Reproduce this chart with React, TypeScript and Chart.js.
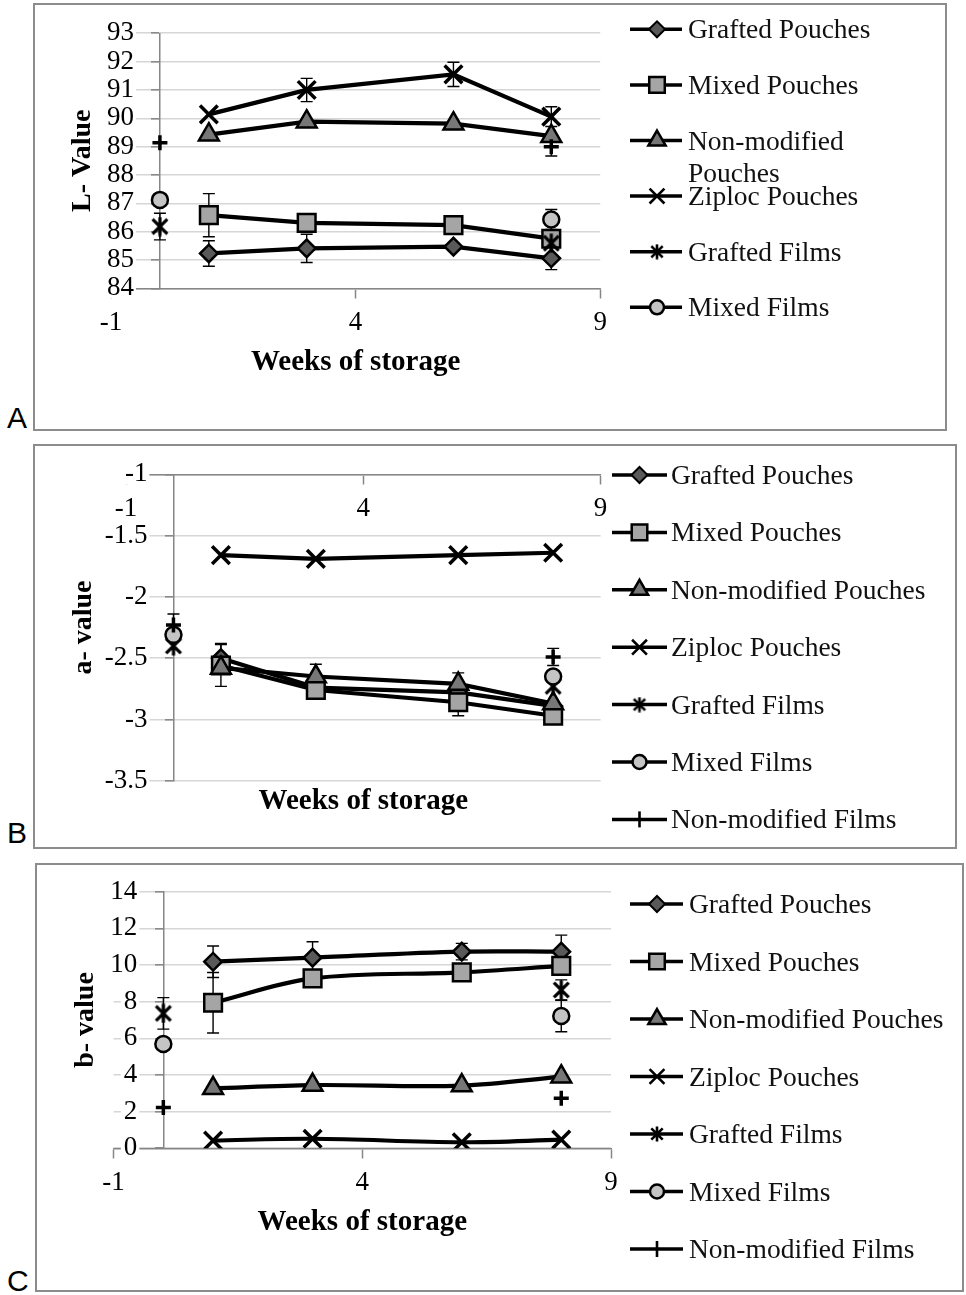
import React, { useEffect, useRef } from 'react';
import { Chart, registerables } from 'chart.js';

Chart.register(...registerables);

const FONT = "'Liberation Serif', 'Times New Roman', serif";
Chart.defaults.font.family = FONT;
Chart.defaults.color = '#000';

// ---------------- data ----------------
const POUCH_WEEKS = [1, 3, 6, 8];
const FILM_WEEKS = [0, 8];
const X_TICKS = [-1, 4, 9];
const X_RANGE = [-1, 9];
const SERIES_NAMES = [
  'Grafted Pouches',
  'Mixed Pouches',
  'Non-modified Pouches',
  'Ziploc Pouches',
  'Grafted Films',
  'Mixed Films',
  'Non-modified Films',
];

// Panel A : L- Value
const L_AXIS = [84, 93, 1];
const L_GRAFTED_POUCHES = [85.23, 85.41, 85.47, 85.06];
const L_MIXED_POUCHES = [86.58, 86.31, 86.23, 85.75];
const L_NONMOD_POUCHES = [89.42, 89.88, 89.81, 89.37];
const L_ZIPLOC_POUCHES = [90.14, 91.0, 91.55, 90.06];
const L_GRAFTED_FILMS = [86.18, 85.59];
const L_MIXED_FILMS = [87.12, 86.43];
const L_NONMOD_FILMS = [89.14, 89.0];
const L_ERR_GRAFTED_POUCHES = [0.45, 0.5, null, 0.4];
const L_ERR_MIXED_POUCHES = [0.76, null, null, null];
const L_ERR_ZIPLOC_POUCHES = [null, 0.41, 0.43, 0.35];
const L_ERR_GRAFTED_FILMS = [0.47, null];
const L_ERR_MIXED_FILMS = [null, 0.35];
const L_ERR_NONMOD_FILMS = [null, 0.33];

// Panel B : a- value
const A_AXIS = [-3.5, -1, 0.5];
const A_GRAFTED_POUCHES = [-2.5, -2.74, -2.78, -2.89];
const A_MIXED_POUCHES = [-2.56, -2.76, -2.86, -2.97];
const A_NONMOD_POUCHES = [-2.58, -2.65, -2.71, -2.87];
const A_ZIPLOC_POUCHES = [-1.66, -1.69, -1.66, -1.64];
const A_GRAFTED_FILMS = [-2.4, -2.73];
const A_MIXED_FILMS = [-2.31, -2.65];
const A_NONMOD_FILMS = [-2.23, -2.49];
const A_ERR_GRAFTED_POUCHES = [0.12, null, null, null];
const A_ERR_MIXED_POUCHES = [0.17, null, 0.11, null];
const A_ERR_NONMOD_POUCHES = [null, 0.1, 0.09, null];
const A_ERR_NONMOD_FILMS = [0.09, 0.07];

// Panel C : b- value
const B_AXIS = [0, 14, 2];
const B_GRAFTED_POUCHES = [10.18, 10.4, 10.73, 10.73];
const B_MIXED_POUCHES = [7.94, 9.27, 9.6, 9.95];
const B_NONMOD_POUCHES = [3.27, 3.45, 3.42, 3.91];
const B_ZIPLOC_POUCHES = [0.42, 0.52, 0.33, 0.47];
const B_GRAFTED_FILMS = [7.36, 8.64];
const B_MIXED_FILMS = [5.69, 7.22];
const B_NONMOD_FILMS = [2.22, 2.73];
const B_ERR_GRAFTED_POUCHES = [0.86, 0.87, 0.45, 0.9];
const B_ERR_MIXED_POUCHES = [1.65, null, null, null];
const B_ERR_GRAFTED_FILMS = [0.86, 0.55];
const B_ERR_MIXED_FILMS = [null, 0.86];

// ---------------- styles ----------------
const AXIS_GRAY = '#868686';
const GRID_GRAY = '#d6d6d6';
const Y_LABEL_GAP = 26; // tick length + padding between y labels and the y axis line
const TICK_FONT = 27;

function makeAsterisk(size: number, lw: number) {
  const c = document.createElement('canvas');
  c.width = size;
  c.height = size;
  const g = c.getContext('2d')!;
  g.strokeStyle = '#000';
  g.lineWidth = lw;
  const m = lw / 2 + 1;
  g.beginPath();
  g.moveTo(m, m);
  g.lineTo(size - m, size - m);
  g.moveTo(size - m, m);
  g.lineTo(m, size - m);
  g.moveTo(size / 2, 0.5);
  g.lineTo(size / 2, size - 0.5);
  g.stroke();
  return c;
}
const ASTERISK_CHART = makeAsterisk(20, 3.2);
const ASTERISK_LEGEND = makeAsterisk(16, 2.6);

const STYLES: any[] = [
  { style: 'rectRot', r: 8.8, fill: '#595959', lw: 2.5, lr: 8 },
  { style: 'rect', r: 12.5, fill: '#a5a5a5', lw: 2.5, lr: 11 },
  { style: 'triangle', r: 11.5, fill: '#777777', lw: 2.5, lr: 10 },
  { style: 'crossRot', r: 12.5, fill: 'rgba(0,0,0,0)', lw: 3.5, lr: 10.5 },
  { style: ASTERISK_CHART, r: 10, fill: 'rgba(0,0,0,0)', lw: 3, lr: 8, legendImg: ASTERISK_LEGEND },
  { style: 'circle', r: 8, fill: '#c4c4c4', lw: 2.5, lr: 7 },
  { style: 'cross', r: 7.5, fill: 'rgba(0,0,0,0)', lw: 3.5, lr: 8 },
];

function drawLegendMarker(ctx: CanvasRenderingContext2D, st: any, x: number, y: number) {
  ctx.save();
  ctx.strokeStyle = '#000';
  ctx.fillStyle = st.fill;
  const r = st.lr;
  ctx.beginPath();
  if (st.style === 'rectRot') {
    ctx.lineWidth = 2;
    ctx.moveTo(x - r, y);
    ctx.lineTo(x, y - r);
    ctx.lineTo(x + r, y);
    ctx.lineTo(x, y + r);
    ctx.closePath();
    ctx.fill();
    ctx.stroke();
  } else if (st.style === 'rect') {
    ctx.lineWidth = 2.5;
    const h = r * Math.SQRT1_2;
    ctx.rect(x - h, y - h, 2 * h, 2 * h);
    ctx.fill();
    ctx.stroke();
  } else if (st.style === 'triangle') {
    ctx.lineWidth = 2.5;
    ctx.moveTo(x, y - r);
    ctx.lineTo(x + r * Math.sin(Math.PI / 3), y + r / 2);
    ctx.lineTo(x - r * Math.sin(Math.PI / 3), y + r / 2);
    ctx.closePath();
    ctx.fill();
    ctx.stroke();
  } else if (st.style === 'circle') {
    ctx.lineWidth = 2.5;
    ctx.arc(x, y, r, 0, Math.PI * 2);
    ctx.fill();
    ctx.stroke();
  } else if (st.style === 'crossRot') {
    ctx.lineWidth = 2.6;
    const d = r * Math.SQRT1_2;
    ctx.moveTo(x - d, y - d);
    ctx.lineTo(x + d, y + d);
    ctx.moveTo(x + d, y - d);
    ctx.lineTo(x - d, y + d);
    ctx.stroke();
  } else if (st.style === 'cross') {
    ctx.lineWidth = 2.6;
    ctx.moveTo(x, y - r);
    ctx.lineTo(x, y + r);
    ctx.stroke();
  } else if (st.legendImg) {
    const img = st.legendImg;
    ctx.drawImage(img, x - img.width / 2, y - img.height / 2);
  }
  ctx.restore();
}

const legendPlugin = {
  id: 'customLegend',
  afterDraw(chart: any, _args: any, opts: any) {
    const { ctx } = chart;
    opts.items.forEach((it: any, i: number) => {
      const y = opts.y0 + i * opts.dy;
      ctx.save();
      ctx.strokeStyle = '#000';
      ctx.lineWidth = 3.5;
      ctx.beginPath();
      ctx.moveTo(opts.lineX0, y);
      ctx.lineTo(opts.lineX1, y);
      ctx.stroke();
      drawLegendMarker(ctx, STYLES[it.idx], opts.markerX, y);
      ctx.fillStyle = '#111';
      ctx.font = `${opts.fontSize}px ${FONT}`;
      ctx.textAlign = 'left';
      ctx.textBaseline = 'alphabetic';
      it.lines.forEach((ln: string, k: number) => {
        ctx.fillText(ln, opts.textX, y + 9 + k * opts.lineGap);
      });
      ctx.restore();
    });
  },
};

const titlesPlugin = {
  id: 'axisTitles',
  afterDraw(chart: any, _args: any, opts: any) {
    const { ctx, chartArea } = chart;
    ctx.save();
    ctx.fillStyle = '#000';
    ctx.textAlign = 'center';
    ctx.textBaseline = 'middle';
    ctx.font = `bold 29px ${FONT}`;
    ctx.fillText(opts.xText, (chartArea.left + chartArea.right) / 2, chartArea.bottom + opts.xDy);
    ctx.translate(opts.yX, (chartArea.top + chartArea.bottom) / 2);
    ctx.rotate(-Math.PI / 2);
    ctx.font = `bold 28px ${FONT}`;
    ctx.fillText(opts.yText, 0, 0);
    ctx.restore();
  },
};

// ---------------- panels ----------------
type Series = { values: number[]; err?: (number | null)[] };

const PANELS = [
  {
    letter: 'A',
    letterTop: 403,
    box: { left: 33, top: 3, right: 947, bottom: 431 },
    area: { left: 111, right: 600.2, top: 33.3, bottom: 288.3 },
    axis: L_AXIS,
    xAxisAt: L_AXIS[0],
    yTitle: 'L- Value',
    yTitleX: 83,
    xTitleDy: 74.4,
    tension: 0,
    lineWidth: 4.3,
    series: [
      { values: L_GRAFTED_POUCHES, err: L_ERR_GRAFTED_POUCHES },
      { values: L_MIXED_POUCHES, err: L_ERR_MIXED_POUCHES },
      { values: L_NONMOD_POUCHES },
      { values: L_ZIPLOC_POUCHES, err: L_ERR_ZIPLOC_POUCHES },
      { values: L_GRAFTED_FILMS, err: L_ERR_GRAFTED_FILMS },
      { values: L_MIXED_FILMS, err: L_ERR_MIXED_FILMS },
      { values: L_NONMOD_FILMS, err: L_ERR_NONMOD_FILMS },
    ] as Series[],
    legend: {
      items: [
        { idx: 0, lines: [SERIES_NAMES[0]] },
        { idx: 1, lines: [SERIES_NAMES[1]] },
        { idx: 2, lines: ['Non-modified', 'Pouches'] },
        { idx: 3, lines: [SERIES_NAMES[3]] },
        { idx: 4, lines: [SERIES_NAMES[4]] },
        { idx: 5, lines: [SERIES_NAMES[5]] },
      ],
      lineX0: 630, lineX1: 682, markerX: 657, textX: 688, y0: 29.3, dy: 55.6,
    },
  },
  {
    letter: 'B',
    letterTop: 818,
    box: { left: 33, top: 444, right: 957, bottom: 849 },
    area: { left: 126, right: 600.6, top: 474.3, bottom: 780.7 },
    axis: A_AXIS,
    xAxisAt: A_AXIS[1],
    yTitle: 'a- value',
    yTitleX: 84,
    xTitleDy: 21,
    tension: 0,
    lineWidth: 4.2,
    series: [
      { values: A_GRAFTED_POUCHES, err: A_ERR_GRAFTED_POUCHES },
      { values: A_MIXED_POUCHES, err: A_ERR_MIXED_POUCHES },
      { values: A_NONMOD_POUCHES, err: A_ERR_NONMOD_POUCHES },
      { values: A_ZIPLOC_POUCHES },
      { values: A_GRAFTED_FILMS },
      { values: A_MIXED_FILMS },
      { values: A_NONMOD_FILMS, err: A_ERR_NONMOD_FILMS },
    ] as Series[],
    legend: {
      items: SERIES_NAMES.map((n, i) => ({ idx: i, lines: [n] })),
      lineX0: 612, lineX1: 667, markerX: 639.5, textX: 671, y0: 475, dy: 57.4,
    },
  },
  {
    letter: 'C',
    letterTop: 1266,
    box: { left: 35, top: 863, right: 964, bottom: 1292 },
    area: { left: 113.6, right: 611, top: 891.7, bottom: 1148.3 },
    axis: B_AXIS,
    xAxisAt: B_AXIS[0],
    yTitle: 'b- value',
    yTitleX: 86,
    xTitleDy: 74.4,
    tension: 0.35,
    lineWidth: 4.2,
    series: [
      { values: B_GRAFTED_POUCHES, err: B_ERR_GRAFTED_POUCHES },
      { values: B_MIXED_POUCHES, err: B_ERR_MIXED_POUCHES },
      { values: B_NONMOD_POUCHES },
      { values: B_ZIPLOC_POUCHES },
      { values: B_GRAFTED_FILMS, err: B_ERR_GRAFTED_FILMS },
      { values: B_MIXED_FILMS, err: B_ERR_MIXED_FILMS },
      { values: B_NONMOD_FILMS },
    ] as Series[],
    legend: {
      items: SERIES_NAMES.map((n, i) => ({ idx: i, lines: [n] })),
      lineX0: 630, lineX1: 683, markerX: 657, textX: 689, y0: 904, dy: 57.5,
    },
  },
];

function buildConfig(p: any): any {
  const isFilm = (i: number) => i >= 4;
  const datasets: any[] = [];
  p.series.forEach((s: Series, i: number) => {
    const st = STYLES[i];
    const xs = isFilm(i) ? FILM_WEEKS : POUCH_WEEKS;
    datasets.push({
      label: SERIES_NAMES[i],
      data: xs.map((x, k) => ({ x, y: s.values[k] })),
      showLine: !isFilm(i),
      borderColor: '#000',
      borderWidth: p.lineWidth,
      tension: p.tension,
      pointStyle: st.style,
      pointRadius: st.r,
      pointHoverRadius: st.r,
      pointBackgroundColor: st.fill,
      pointBorderColor: '#000',
      pointBorderWidth: st.lw,
      order: 10 - i,
    });
  });
  p.series.forEach((s: Series, i: number) => {
    if (!s.err) return;
    const xs = isFilm(i) ? FILM_WEEKS : POUCH_WEEKS;
    const pts: any[] = [];
    xs.forEach((x, k) => {
      const e = s.err![k];
      if (e == null) return;
      pts.push({ x, y: s.values[k] - e }, { x, y: s.values[k] + e }, { x, y: null });
    });
    datasets.push({
      label: SERIES_NAMES[i] + ' error',
      data: pts,
      showLine: true,
      spanGaps: false,
      borderColor: '#000',
      borderWidth: 1.4,
      pointStyle: 'line',
      pointRadius: 6,
      pointHoverRadius: 6,
      pointBorderColor: '#000',
      pointBorderWidth: 1.4,
      order: 30,
    });
  });

  const { box, area } = p;
  const pxPerUnit = (area.right - area.left) / (X_RANGE[1] - X_RANGE[0]);
  const fmt = (v: any) => String(Number(v));
  return {
    type: 'scatter',
    data: { datasets },
    options: {
      responsive: false,
      animation: false,
      events: [],
      layout: {
        padding: {
          left: area.left - box.left,
          top: area.top - box.top,
          right: box.right - area.right,
          bottom: box.bottom - area.bottom,
        },
      },
      scales: {
        x: {
          type: 'linear',
          min: X_RANGE[0],
          max: X_RANGE[1],
          position: { y: p.xAxisAt },
          afterBuildTicks: (s: any) => {
            s.ticks = X_TICKS.map((v) => ({ value: v }));
          },
          grid: {
            display: true,
            drawOnChartArea: false,
            drawTicks: true,
            tickLength: 9,
            tickColor: AXIS_GRAY,
            tickWidth: 1.5,
          },
          border: { display: true, color: AXIS_GRAY, width: 1.5 },
          ticks: { font: { size: TICK_FONT }, color: '#000', padding: 9, maxRotation: 0, autoSkip: false, callback: fmt },
        },
        y: {
          type: 'linear',
          min: p.axis[0],
          max: p.axis[1],
          position: { x: 0 },
          ticks: { stepSize: p.axis[2], autoSkip: false, display: false },
          grid: {
            color: GRID_GRAY,
            lineWidth: 1.6,
            tickLength: 8,
            tickColor: AXIS_GRAY,
            tickWidth: 1.5,
          },
          border: { display: true, color: AXIS_GRAY, width: 1.5 },
        },
        yLabels: {
          type: 'linear',
          axis: 'y',
          min: p.axis[0],
          max: p.axis[1],
          position: { x: -Y_LABEL_GAP / pxPerUnit },
          ticks: {
            stepSize: p.axis[2],
            autoSkip: false,
            font: { size: TICK_FONT },
            color: '#000',
            padding: 0,
            callback: fmt,
            showLabelBackdrop: true,
            backdropColor: '#ffffff',
            backdropPadding: { top: -6, bottom: -6, left: 3, right: 2 },
          },
          grid: { display: false, drawTicks: false, tickLength: 0 },
          border: { display: false },
        },
      },
      plugins: {
        legend: { display: false },
        tooltip: { enabled: false },
        customLegend: {
          items: p.legend.items,
          lineX0: p.legend.lineX0 - box.left,
          lineX1: p.legend.lineX1 - box.left,
          markerX: p.legend.markerX - box.left,
          textX: p.legend.textX - box.left,
          y0: p.legend.y0 - box.top,
          dy: p.legend.dy,
          fontSize: 27.5,
          lineGap: 32,
        },
        axisTitles: {
          xText: 'Weeks of storage',
          xDy: p.xTitleDy,
          yText: p.yTitle,
          yX: p.yTitleX - box.left,
        },
      },
    },
    plugins: [legendPlugin, titlesPlugin],
  };
}

function Panel({ p }: { p: any }) {
  const ref = useRef<HTMLCanvasElement>(null);
  useEffect(() => {
    const chart = new Chart(ref.current!, buildConfig(p));
    return () => chart.destroy();
  }, []);
  const w = p.box.right - p.box.left;
  const h = p.box.bottom - p.box.top;
  return (
    <>
      <div
        style={{
          position: 'absolute',
          left: p.box.left,
          top: p.box.top,
          width: w,
          height: h,
          border: '2px solid #8c8c8c',
          boxSizing: 'border-box',
        }}
      />
      <canvas
        ref={ref}
        width={w}
        height={h}
        style={{ position: 'absolute', left: p.box.left, top: p.box.top, width: w, height: h }}
      />
      <div
        style={{
          position: 'absolute',
          left: 7,
          top: p.letterTop,
          fontFamily: "'Liberation Sans', Arial, sans-serif",
          fontSize: 30,
          lineHeight: '30px',
          color: '#000',
        }}
      >
        {p.letter}
      </div>
    </>
  );
}

export default function App() {
  return (
    <div>
      {PANELS.map((p) => (
        <Panel key={p.letter} p={p} />
      ))}
    </div>
  );
}
